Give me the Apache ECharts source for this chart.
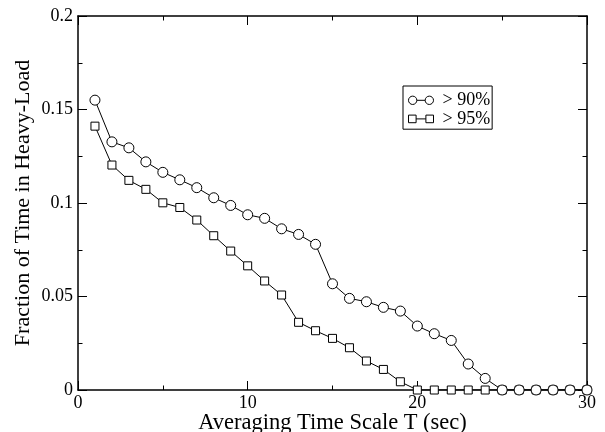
<!DOCTYPE html>
<html>
<head>
<meta charset="utf-8">
<script src="https://cdn.jsdelivr.net/npm/echarts@6/dist/echarts.min.js"></script>
<style>
  html, body { margin: 0; padding: 0; background: #fff; }
  #main { width: 605px; height: 432px; }
</style>
</head>
<body>
<div id="main"></div>
<script>
// averaging time scale T (sec)
const scaleT = [1, 2, 3, 4, 5, 6, 7, 8, 9, 10, 11, 12, 13, 14, 15,
  16, 17, 18, 19, 20, 21, 22, 23, 24, 25, 26, 27, 28, 29, 30];
// fraction of time in heavy-load, > 90%
const over90 = [0.155, 0.1327, 0.1295, 0.122, 0.1164, 0.1124, 0.1082, 0.1028, 0.0987, 0.0937,
  0.0918, 0.0862, 0.0832, 0.0779, 0.0568, 0.049, 0.0472, 0.0442, 0.0422, 0.0342,
  0.0301, 0.0265, 0.0139, 0.0062, 0, 0, 0, 0, 0, 0];
// > 95%
const over95 = [0.1411, 0.1203, 0.1121, 0.1073, 0.1001, 0.0976, 0.0909, 0.0825, 0.0743, 0.0664,
  0.0583, 0.0508, 0.0362, 0.0317, 0.0276, 0.0226, 0.0155, 0.011, 0.0044, 0,
  0, 0, 0, 0, 0, 0, 0, 0, 0, 0];
const seriesNames = ['> 90%', '> 95%'];

const serif = 'Liberation Serif';
const chart = echarts.init(document.getElementById('main'), null, { renderer: 'canvas' });

// legend icons: symbol - line - symbol
const circleIcon = 'path://M0.5,4.5 A4,4 0 1,1 8.5,4.5 A4,4 0 1,1 0.5,4.5 Z M8.5,4.5 L16.5,4.5 M16.5,4.5 A4,4 0 1,1 24.5,4.5 A4,4 0 1,1 16.5,4.5 Z';
const squareIcon = 'path://M1,1 H8 V8 H1 Z M8,4.5 H17 M17,1 H24 V8 H17 Z';

function pairs(ys) {
  return scaleT.map((t, i) => [t, ys[i]]);
}

const axisLine = { show: true, onZero: false, lineStyle: { color: '#000', width: 1.5 } };
const axisTick = { show: true, inside: true, length: 9, lineStyle: { color: '#000', width: 1 } };
const minorTick = { show: true, splitNumber: 2, length: 4.5, lineStyle: { color: '#000', width: 1 } };

const option = {
  animation: false,
  grid: { left: 78, right: 18, top: 16, bottom: 42, outerBoundsMode: 'none', containLabel: false },
  legend: {
    orient: 'vertical',
    left: 403,
    top: 86,
    padding: [5, 2, 1, 5],
    itemGap: 0,
    itemWidth: 25,
    itemHeight: 9,
    borderColor: '#000',
    borderWidth: 1,
    textStyle: { fontFamily: serif, fontSize: 18, color: '#000', padding: [0, 0, 0, 4], lineHeight: 18.6 },
    data: [
      { name: seriesNames[0], icon: circleIcon },
      { name: seriesNames[1], icon: squareIcon }
    ],
    itemStyle: { color: '#fff', borderColor: '#000', borderWidth: 1 }
  },
  xAxis: [{
    type: 'value',
    min: 0, max: 30, interval: 10,
    name: 'Averaging Time Scale T (sec)',
    nameLocation: 'middle',
    nameGap: 22,
    nameMoveOverlap: false,
    nameTextStyle: { fontFamily: serif, fontSize: 22.5, color: '#000' },
    axisLine: axisLine,
    axisTick: axisTick,
    minorTick: minorTick,
    splitLine: { show: false },
    axisLabel: { fontFamily: serif, fontSize: 18, color: '#000', margin: 4 }
  }, {
    type: 'value', position: 'top',
    min: 0, max: 30, interval: 10,
    axisLine: axisLine, axisTick: axisTick, minorTick: minorTick,
    splitLine: { show: false }, axisLabel: { show: false }
  }],
  yAxis: [{
    type: 'value',
    min: 0, max: 0.2, interval: 0.05,
    name: 'Fraction of Time in Heavy-Load',
    nameLocation: 'middle',
    nameGap: 44,
    nameMoveOverlap: false,
    nameTextStyle: { fontFamily: serif, fontSize: 22, color: '#000' },
    axisLine: axisLine,
    axisTick: axisTick,
    minorTick: minorTick,
    splitLine: { show: false },
    axisLabel: { fontFamily: serif, fontSize: 18, color: '#000', margin: 5 }
  }, {
    type: 'value', position: 'right',
    min: 0, max: 0.2, interval: 0.05,
    axisLine: axisLine, axisTick: axisTick, minorTick: minorTick,
    splitLine: { show: false }, axisLabel: { show: false }
  }],
  series: [{
    name: seriesNames[0],
    type: 'line',
    z: 3,
    data: pairs(over90),
    symbol: 'circle',
    symbolSize: 10,
    showAllSymbol: true,
    itemStyle: { color: '#fff', borderColor: '#000', borderWidth: 1 },
    lineStyle: { color: '#000', width: 1 }
  }, {
    name: seriesNames[1],
    type: 'line',
    z: 2,
    data: pairs(over95),
    symbol: 'rect',
    symbolSize: 8,
    showAllSymbol: true,
    itemStyle: { color: '#fff', borderColor: '#000', borderWidth: 1 },
    lineStyle: { color: '#000', width: 1 }
  }]
};

chart.setOption(option);
</script>
</body>
</html>
